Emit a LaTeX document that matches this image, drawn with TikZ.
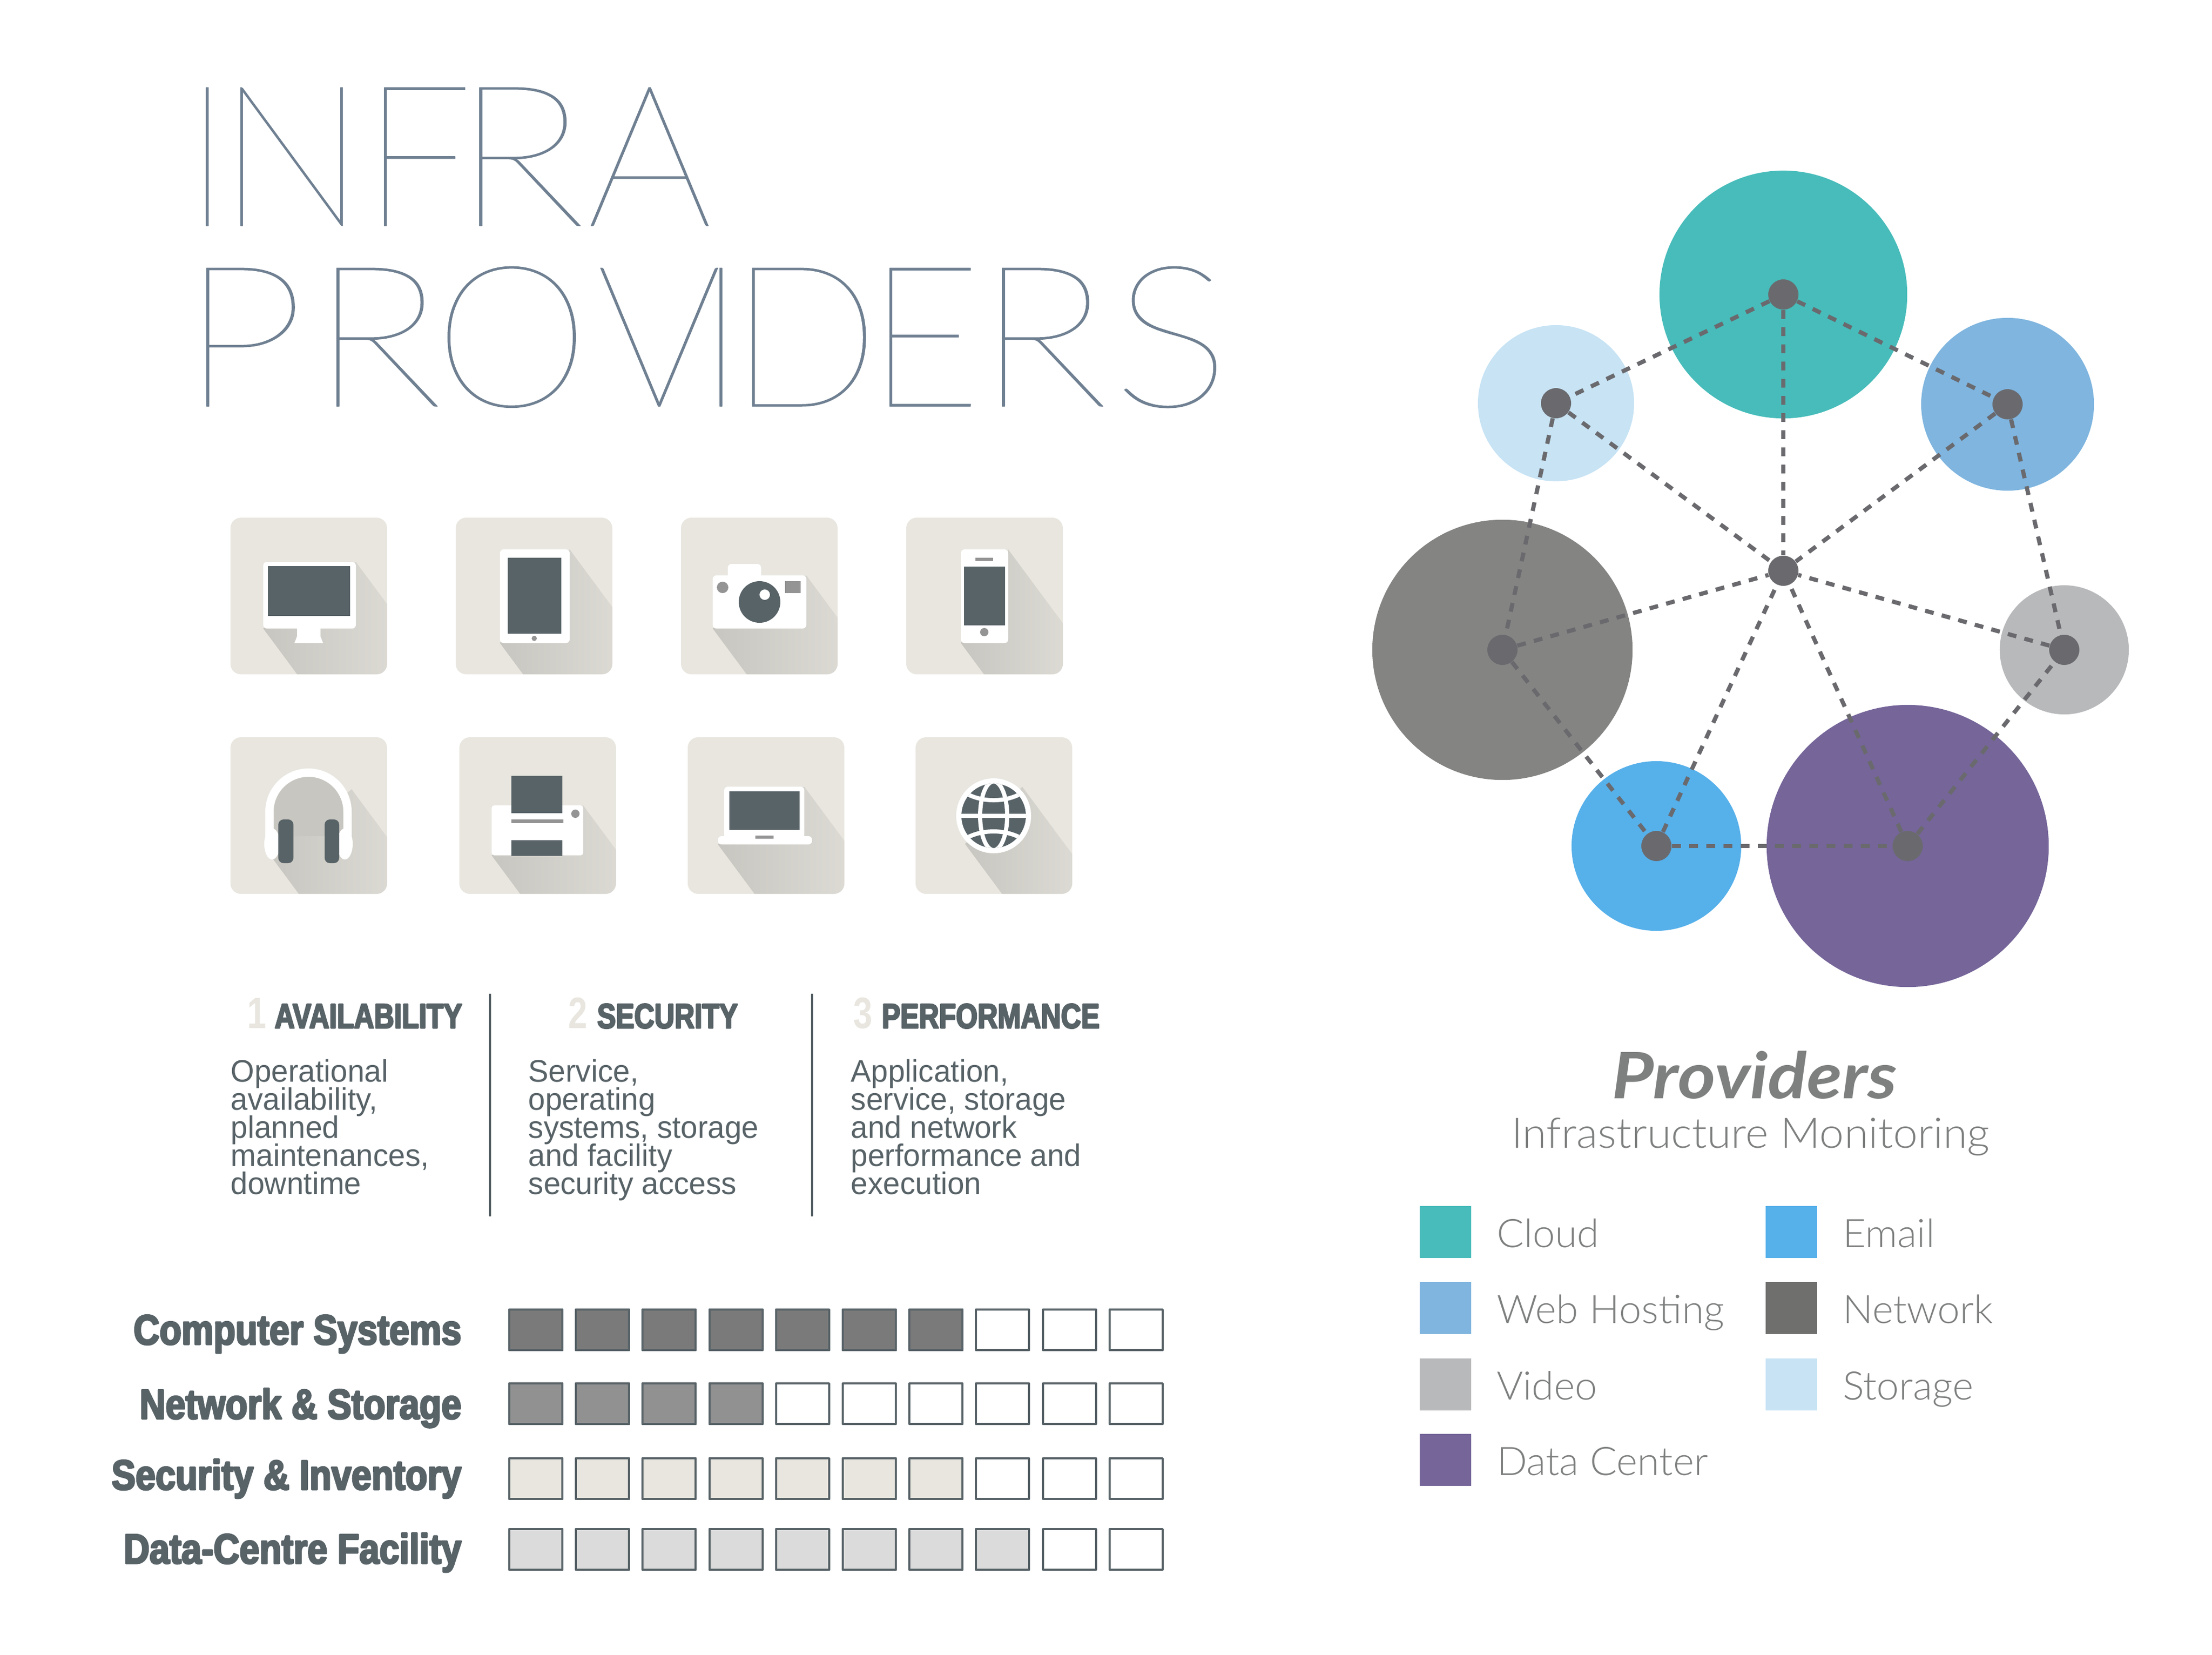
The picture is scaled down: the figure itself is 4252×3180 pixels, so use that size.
\documentclass[tikz,border=0pt]{standalone}
\usepackage{fontspec}
\setmainfont{Liberation Sans}
\newfontfamily\titlefont[FakeBold=.25]{Lato Thin}
\newfontfamily\titlewide[FakeStretch=1.13,FakeBold=.25]{Lato Thin}
\newfontfamily\headfont[FakeStretch=.80,FakeBold=4]{Liberation Sans Bold}
\newfontfamily\rowfont[FakeStretch=.855,FakeBold=4]{Liberation Sans Bold}
\newfontfamily\digitfont[FakeStretch=.78]{Liberation Sans Bold}
\newfontfamily\bodyfont[FakeStretch=.98]{Liberation Sans}
\newfontfamily\legendfont[FakeStretch=1.02]{Lato Light}
\newfontfamily\subfont[FakeStretch=1.045]{Lato Light}
\newfontfamily\provfont[FakeStretch=1.13]{Lato Bold Italic}
\newcommand\tightlines{\lineskiplimit=-20pt\relax}
\definecolor{slate}{HTML}{586368}
\definecolor{tilebg}{HTML}{E8E6DF}
\definecolor{titleblue}{HTML}{6F8092}
\definecolor{softgray}{HTML}{7E7F7F}
\definecolor{cloudc}{HTML}{47BCBA}
\definecolor{emailc}{HTML}{56B0EA}
\definecolor{webc}{HTML}{7FB5DF}
\definecolor{netc}{HTML}{848483}
\definecolor{netkey}{HTML}{6F6F6E}
\definecolor{videoc}{HTML}{B8B9BB}
\definecolor{storagec}{HTML}{C7E3F4}
\definecolor{datac}{HTML}{756599}
\definecolor{hubc}{HTML}{6A6A6E}
\tikzset{
	txt/.style={inner sep=0pt, outer sep=0pt, anchor=base west},
	bubble/.style={circle, inner sep=0pt, minimum size=#1},
	hub/.style={circle, inner sep=0pt, minimum size=0.58cm, fill=hubc},
	link/.style={line width=0.08cm, hubc, dash pattern=on 0.17cm off 0.16cm},
	tile/.style={fill=tilebg, rounded corners=0.2cm},
	lightbody/.style={fill=white, rounded corners=0.07cm},
	darkpart/.style={fill=slate},
	midpart/.style={fill=black!42},
	cell/.style={draw=slate, line width=0.04cm, minimum width=1.02cm, minimum height=0.78cm, inner sep=0pt},
	swatch/.style={minimum width=0.99cm, minimum height=1cm, inner sep=0pt},
}
\begin{document}
\begin{tikzpicture}[x=0.01cm, y=-0.01cm, line join=round]
	\useasboundingbox (0,0) rectangle (4252,3180);
	%Tiêu đề
	\node[txt, titleblue, font=\titlefont\fontsize{108}{108}\selectfont] (infra) at (352,434) {I\kern-7.5pt N\kern-2.3pt F\kern-10.4pt{\titlewide\fontsize{108}{108}\selectfont R}\kern.7pt A};
	\node[txt, titleblue, font=\titlefont\fontsize{108}{108}\selectfont] (providers) at (347,781) {{\titlewide\fontsize{108}{108}\selectfont P}\kern3pt{\titlewide\fontsize{108}{108}\selectfont R}\kern-4.6pt O\kern3.9pt V\kern-13.9pt I\kern-8.5pt D\kern-7pt E\kern-3pt{\titlewide\fontsize{108}{108}\selectfont R}\kern2.3pt{\titlewide\fontsize{108}{108}\selectfont S}};
	%Nền các ô và bóng đổ
	\foreach \tx/\ty/\ax/\ay/\bx/\by in {
		443/995/241/85/63/213, 876/995/219/61/85/241, 1309/995/241/111/61/213, 1742/995/196/61/105/241,
		443/1417/233/100/75/225, 883/1417/238/131/62/227, 1322/1417/224/95/58/206, 1760/1417/205/95/95/205}
	{
		\begin{scope}[shift={(\tx,\ty)}]
			\path[tile] (0,0) rectangle (301,301);
			\begin{scope}
				\clip[rounded corners=0.2cm] (0,0) rectangle (301,301);
				\shade[left color=black!14!tilebg, right color=tilebg] (\ax,\ay) -- ++(220,297) -- (\bx+220,\by+297) -- (\bx,\by) -- cycle;
			\end{scope}
		\end{scope}
	}
	%Màn hình
	\begin{scope}[shift={(443,995)}]
		\fill[white] (128,205) -- (173,205) -- (173,228) -- (178,241) -- (123,241) -- (128,228) -- cycle;
		\path[lightbody] (63,85) rectangle (241,213);
		\path[darkpart] (72,93) rectangle (230,189);
	\end{scope}
	%Máy bảng
	\begin{scope}[shift={(876,995)}]
		\path[lightbody] (85,61) rectangle (219,241);
		\path[darkpart] (100,77) rectangle (203,223);
		\path[midpart] (151,232) circle (5);
	\end{scope}
	%Máy ảnh
	\begin{scope}[shift={(1309,995)}]
		\path[lightbody] (90,89) rectangle (154,130);
		\path[lightbody] (61,111) rectangle (241,213);
		\path[darkpart] (151,162) circle (40);
		\path[fill=white] (161,148) circle (10);
		\path[midpart] (80,134) circle (11);
		\path[midpart] (200,122) rectangle (230,145);
	\end{scope}
	%Điện thoại
	\begin{scope}[shift={(1742,995)}]
		\path[lightbody] (105,61) rectangle (196,241);
		\path[darkpart] (111,94) rectangle (190,207);
		\path[midpart] (133,77) rectangle (167,83);
		\path[midpart] (150,220) circle (8);
	\end{scope}
	%Tai nghe
	\begin{scope}[shift={(443,1417)}]
		\fill[black!14!tilebg] (75,190) -- (75,143) arc (180:360:75) -- (225,190) -- cycle;
		\draw[white, line width=0.16cm] (75,190) -- (75,143) arc (180:360:75) -- (225,190);
		\fill[white] (80,205) ellipse (15 and 30) (220,205) ellipse (15 and 30);
		\path[darkpart, rounded corners=0.1cm] (92,158) rectangle (121,242) (181,158) rectangle (209,242);
	\end{scope}
	%Máy in
	\begin{scope}[shift={(883,1417)}]
		\path[lightbody, rounded corners=0.05cm] (62,131) rectangle (238,227);
		\path[darkpart] (100,74) rectangle (198,146);
		\path[midpart] (100,158) rectangle (200,165);
		\path[midpart] (223,147) circle (8);
		\path[darkpart] (100,198) rectangle (198,228);
	\end{scope}
	%Máy xách tay
	\begin{scope}[shift={(1322,1417)}]
		\path[lightbody] (70,95) rectangle (224,195);
		\path[lightbody] (58,190) rectangle (239,206);
		\path[darkpart] (80,104) rectangle (215,178);
		\path[midpart] (130,189) rectangle (165,195);
	\end{scope}
	%Quả địa cầu
	\begin{scope}[shift={(1760,1417)}]
		\fill[white] (150,151) circle (72);
		\path[darkpart] (150,151) circle (62);
		\begin{scope}
			\clip (150,151) circle (62);
			\draw[white, line width=0.08cm] (150,151) ellipse (26 and 66) (80,151) -- (220,151);
			\draw[white, line width=0.08cm] (85,100) .. controls (120,128) and (180,128) .. (215,100);
			\draw[white, line width=0.08cm] (85,202) .. controls (120,174) and (180,174) .. (215,202);
		\end{scope}
	\end{scope}
	%Ba cột nội dung
	\foreach \p/\g/\n/\d/\dd in {availability/528/AVAILABILITY/475/1, security/1148/SECURITY/1092/2, performance/1695/PERFORMANCE/1640/3}
	{
		\node[txt, tilebg, font=\digitfont\fontsize{24}{24}\selectfont] (digit\dd) at (\d,1976) {\dd};
		\node[txt, slate, font=\headfont\fontsize{19}{19}\selectfont] (\p) at (\g,1976) {\n};
	}
	\coordinate (sepA) at (942,1910);
	\coordinate (sepB) at (942,2338);
	\coordinate (sepC) at (1561,1910);
	\coordinate (sepD) at (1561,2338);
	\draw[slate, line width=0.035cm] (sepA) -- (sepB) (sepC) -- (sepD);
	\foreach \p/\g/\t in {
		col1/443/{Operational\\availability,\\planned\\maintenances,\\downtime},
		col2/1015/{Service,\\operating\\systems, storage\\and facility\\security access},
		col3/1635/{Application,\\service, storage\\and network\\performance and\\execution}}
	\node[inner sep=0pt, anchor=north west, align=left, slate, font=\bodyfont\fontsize{17}{15.4}\selectfont\tightlines] (\p) at (\g,2035) {\t};
	%Các thanh mức
	\foreach \p/\yy/\bl/\num/\fc/\t in {
		a/2556/2584/7/black!52/{Computer Systems},
		b/2698/2727/4/black!43/{Network \& Storage},
		c/2842/2863/7/tilebg/{Security \& Inventory},
		d/2978/3005/8/black!14/{Data-Centre Facility}}
	{
		\node[txt, anchor=base east, slate, font=\rowfont\fontsize{23}{23}\selectfont] (label\p) at (887,\bl) {\t};
		\foreach \c in {0,...,9}
			\node[cell] (cell\p\c) at ({1030+\c*128.2},\yy) {};
		\foreach \c in {1,...,\num}
			\node[cell, fill=\fc] (fill\p\c) at ({1030+(\c-1)*128.2},\yy) {};
	}
	%Các vòng tròn
	\foreach \p/\xx/\yy/\dia/\fc in {
		cloud/3428/566/4.76cm/cloudc, storage/2991/775/3cm/storagec, web/3859/777/3.32cm/webc,
		network/2888/1249/5cm/netc, video/3968/1249/2.48cm/videoc, email/3184/1626/3.26cm/emailc,
		data/3667/1626/5.42cm/datac}
	\node[bubble=\dia, fill=\fc] (\p) at (\xx,\yy) {};
	\foreach \p/\xx/\yy in {cloud/3428/566, storage/2991/775, web/3859/777, network/2888/1249, video/3968/1249, email/3184/1626, data/3667/1626, centre/3428/1097}
	\node[hub] (\p hub) at (\xx,\yy) {};
	\foreach \a/\b in {cloud/storage, cloud/web, cloud/centre, web/centre, storage/centre, network/centre, video/centre, email/centre, data/centre, storage/network, web/video, network/email, email/data, data/video}
	\draw[link] (\a hub) -- (\b hub);
	%Chú giải
	\node[txt, softgray, font=\provfont\fontsize{35}{35}\selectfont] (provtitle) at (3098,2111) {Providers};
	\node[txt, softgray, font=\subfont\fontsize{23}{23}\selectfont] (provsub) at (2905,2206) {Infrastructure Monitoring};
	\foreach \p/\xx/\yy/\fc/\t in {
		kcloud/2778/2368/cloudc/Cloud, kweb/2778/2514/webc/Web Hosting, kvideo/2778/2661/videoc/Video, kdata/2778/2806/datac/Data Center,
		kemail/3443/2368/emailc/Email, knet/3443/2514/netkey/Network, kstore/3443/2661/storagec/Storage}
	{
		\node[swatch, fill=\fc] (\p) at (\xx,\yy) {};
		\node[txt, softgray, font=\legendfont\fontsize{21.5}{21.5}\selectfont] (\p txt) at (\xx+99,\yy+29) {\t};
	}
\end{tikzpicture}
\end{document}
